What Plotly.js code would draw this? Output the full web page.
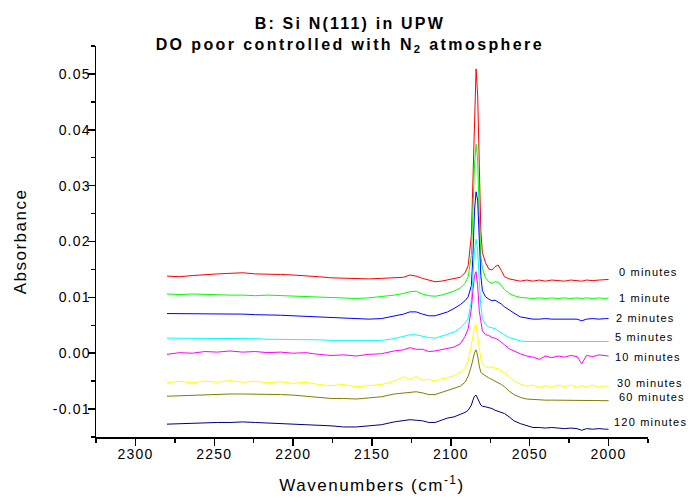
<!DOCTYPE html>
<html>
<head>
<meta charset="utf-8">
<script src="https://cdn.plot.ly/plotly-3.0.1.min.js"></script>
<style>html,body{margin:0;padding:0;background:#fff;}#chart{width:690px;height:502px;}</style>
</head>
<body>
<div id="chart"></div>
<script>
// Wavenumber grid (cm-1)
var wavenumbers = [2280,2272,2264,2256,2248,2240,2232,2224,2216,2208,2200,2192,2184,2176,2168,2160,2152,2144,2136,2130,2126,2122,2118,2114,2110,2106,2102,2098,2094,2091,2089,2087,2086,2085,2084,2083,2082,2081,2080,2078,2076,2074,2072,2070,2068,2066,2063,2060,2056,2052,2048,2044,2040,2036,2032,2028,2024,2020,2017,2014,2010,2006,2002,2000];

var seriesNames = ["0 minutes","1 minute","2 minutes","5 minutes","10 minutes","30 minutes","60 minutes","120 minutes"];

var abs0 = [0.0138,0.0137,0.0139,0.0141,0.0142,0.0143,0.0144,0.0142,0.0142,0.0141,0.0140,0.0139,0.0137,0.0135,0.0134,0.0133,0.0133,0.0134,0.0135,0.0136,0.0140,0.0138,0.0134,0.0131,0.0128,0.0129,0.0131,0.0134,0.0136,
  0.0144,0.0157,0.0211,0.0310,0.0435,0.0509,0.0462,0.0328,0.0220,0.0180,0.0162,0.0151,0.0149,0.0155,0.0158,0.0148,0.0137,0.0133,0.0131,
  0.0129,0.0131,0.0129,0.0131,0.0129,0.0131,0.0130,0.0129,0.0131,0.0130,0.0129,0.0131,0.0130,0.0131,0.0131,0.0132];
var abs1 = [0.0106,0.0105,0.0106,0.0105,0.0105,0.0104,0.0104,0.0103,0.0104,0.0103,0.0103,0.0102,0.0101,0.0100,0.0099,0.0098,0.0099,0.0101,0.0104,0.0107,0.0110,0.0111,0.0106,0.0103,0.0102,0.0104,0.0107,0.0111,0.0117,
  0.0125,0.0137,0.0175,0.0256,0.0337,0.0374,0.0346,0.0247,0.0175,0.0152,0.0135,0.0128,0.0125,0.0128,0.0127,0.0121,0.0114,0.0107,0.0103,0.0100,0.0099,
  0.0098,0.0099,0.0098,0.0099,0.0098,0.0099,0.0098,0.0099,0.0098,0.0099,0.0098,0.0099,0.0098,0.0099];
var abs2 = [0.0071,0.0071,0.0071,0.0070,0.0071,0.0070,0.0070,0.0069,0.0069,0.0068,
  0.0067,0.0066,0.0065,0.0064,0.0063,0.0062,0.0061,0.0062,0.0066,0.0070,
  0.0074,0.0074,0.0070,0.0067,0.0067,0.0070,0.0074,0.0080,0.0087,0.0094,
  0.0101,0.0121,0.0175,0.0256,0.0289,0.0274,0.0202,0.0139,0.0112,0.0101,
  0.0097,0.0094,0.0095,0.0092,0.0088,0.0083,0.0077,0.0072,0.0065,0.0063,
  0.0061,0.0061,0.0062,0.0061,0.0061,0.0062,0.0061,0.0061,0.0058,0.0061,
  0.0062,0.0061,0.0062,0.0062];
var abs5 = [0.0027,0.0027,0.0026,0.0026,0.0026,0.0027,0.0026,0.0026,0.0025,0.0025,
  0.0025,0.0024,0.0024,0.0023,0.0023,0.0022,0.0022,0.0023,0.0026,0.0030,
  0.0033,0.0033,0.0030,0.0028,0.0027,0.0030,0.0034,0.0038,0.0045,0.0054,
  0.0062,0.0094,0.0139,0.0184,0.0204,0.0184,0.0130,0.0085,0.0062,0.0051,
  0.0047,0.0046,0.0044,0.0040,0.0036,0.0033,0.0028,0.0025,0.0022,0.0021,
  0.0021,0.0021,0.0020,0.0021,0.0021,0.0021,0.0020,0.0021,0.0021,0.0020,
  0.0021,0.0021,0.0021,0.0021];
var abs10 = [-0.0002,0.0001,0.0000,0.0003,0.0002,0.0004,0.0002,0.0003,0.0001,0.0002,
  0.0000,0.0001,-0.0002,-0.0004,-0.0003,-0.0005,-0.0002,-0.0001,0.0004,0.0006,
  0.0010,0.0007,0.0007,0.0003,0.0004,0.0006,0.0009,0.0011,0.0017,0.0030,
  0.0044,0.0080,0.0112,0.0139,0.0146,0.0121,0.0076,0.0058,0.0040,0.0033,
  0.0032,0.0028,0.0027,0.0024,0.0020,0.0015,0.0008,0.0004,-0.0001,-0.0005,
  -0.0007,-0.0011,-0.0005,-0.0008,-0.0005,-0.0007,-0.0004,-0.0006,-0.0019,-0.0004,
  -0.0006,-0.0003,-0.0005,-0.0005];
var abs30 = [-0.0053,-0.0050,-0.0053,-0.0050,-0.0052,-0.0049,-0.0052,-0.0050,-0.0053,-0.0051,
  -0.0054,-0.0052,-0.0056,-0.0058,-0.0056,-0.0060,-0.0058,-0.0056,-0.0050,-0.0042,
  -0.0047,-0.0042,-0.0048,-0.0047,-0.0050,-0.0046,-0.0044,-0.0040,-0.0034,-0.0026,
  -0.0014,0.0013,0.0031,0.0047,0.0051,0.0031,0.0004,-0.0010,-0.0019,-0.0024,
  -0.0026,-0.0024,-0.0027,-0.0028,-0.0032,-0.0035,-0.0042,-0.0049,-0.0055,-0.0059,
  -0.0057,-0.0061,-0.0058,-0.0061,-0.0057,-0.0060,-0.0057,-0.0061,-0.0058,-0.0060,
  -0.0057,-0.0061,-0.0058,-0.0060];
var abs60 = [-0.0077,-0.0076,-0.0075,-0.0074,-0.0074,-0.0073,-0.0073,-0.0073,-0.0074,-0.0074,
  -0.0075,-0.0077,-0.0079,-0.0081,-0.0081,-0.0082,-0.0080,-0.0078,-0.0073,-0.0071,
  -0.0069,-0.0069,-0.0071,-0.0074,-0.0074,-0.0070,-0.0066,-0.0063,-0.0059,-0.0052,
  -0.0041,-0.0023,-0.0010,0.0001,0.0006,-0.0005,-0.0023,-0.0034,-0.0037,-0.0041,
  -0.0044,-0.0047,-0.0050,-0.0052,-0.0056,-0.0060,-0.0068,-0.0074,-0.0079,-0.0082,
  -0.0083,-0.0084,-0.0084,-0.0084,-0.0084,-0.0084,-0.0085,-0.0084,-0.0084,-0.0085,
  -0.0084,-0.0084,-0.0085,-0.0085];
var abs120 = [-0.0127,-0.0126,-0.0126,-0.0125,-0.0124,-0.0124,-0.0123,-0.0124,-0.0125,-0.0125,
  -0.0126,-0.0127,-0.0129,-0.0130,-0.0132,-0.0132,-0.0130,-0.0128,-0.0123,-0.0121,
  -0.0119,-0.0120,-0.0121,-0.0124,-0.0124,-0.0120,-0.0116,-0.0114,-0.0110,-0.0106,
  -0.0102,-0.0093,-0.0084,-0.0077,-0.0075,-0.0080,-0.0087,-0.0093,-0.0095,-0.0096,
  -0.0097,-0.0099,-0.0102,-0.0104,-0.0105,-0.0108,-0.0114,-0.0121,-0.0126,-0.0130,
  -0.0133,-0.0133,-0.0134,-0.0133,-0.0134,-0.0135,-0.0134,-0.0135,-0.0138,-0.0135,
  -0.0136,-0.0135,-0.0136,-0.0136];

var xTickVals = [2300,2250,2200,2150,2100,2050,2000];
var xTickText = ["2300","2250","2200","2150","2100","2050","2000"];
var yTickVals = [-0.01,0.00,0.01,0.02,0.03,0.04,0.05];
var yTickText = ["-0.01","0.00","0.01","0.02","0.03","0.04","0.05"];

var allSeries = [abs0,abs1,abs2,abs5,abs10,abs30,abs60,abs120];
var colors = ["#FF0000","#00FF00","#0000FF","#00FFFF","#FF00FF","#FFFF00","#808000","#000080"];

function sp(t, px){ return '<span style="letter-spacing:' + px + 'px">' + t + '</span>'; }

var FONT = "Liberation Sans, Arial, sans-serif";

var traces = allSeries.map(function(ys, i){
  return {x: wavenumbers, y: ys, type: 'scatter', mode: 'lines', name: seriesNames[i],
          line: {color: colors[i], width: 1}, hoverinfo: 'skip'};
});

var labelY = [0.422,0.355,0.304,0.256,0.205,0.138,0.102,0.038];
var labelX = [0.944,0.944,0.938,0.937,0.937,0.940,0.944,0.935];
var annotations = seriesNames.map(function(n, i){
  return {xref:'paper', yref:'paper', x: labelX[i], y: labelY[i], xanchor:'left', yanchor:'middle',
          text: sp(n, 1.2), showarrow:false, font:{family:FONT, size:11, color:'#000'}};
});

var layout = {
  width: 690, height: 502,
  paper_bgcolor: '#fff', plot_bgcolor: '#fff',
  margin: {l: 96, r: 42, t: 46, b: 65},
  showlegend: false,
  font: {family: FONT, color: '#000'},
  title: {
    text: '<b>' + sp('B: Si N(111) in UPW', 2.2) + '<br>' + sp('DO poor controlled with N<sub>2</sub> atmosphere', 2.4) + '</b>',
    font: {family: FONT, size: 16, color: '#000'},
    xref: 'container', x: 0.507, xanchor: 'center',
    yref: 'container', y: 0.942, yanchor: 'middle'
  },
  xaxis: {
    range: [2325, 1975], autorange: false,
    tickmode: 'array', tickvals: xTickVals, ticktext: xTickText.map(function(t){return sp(t,1.2);}),
    ticks: 'outside', ticklen: 7, tickwidth: 1.5, tickcolor: '#000',
    tickfont: {family: FONT, size: 14, color: '#000'},
    ticklabelstandoff: -3,
    showline: true, linecolor: '#000', linewidth: 1.5, mirror: false,
    showgrid: false, zeroline: false,
    minor: {tickmode: 'linear', tick0: 2000, dtick: 25, ticks: 'outside', ticklen: 4, tickwidth: 1.5, tickcolor: '#000', showgrid: false},
    title: {text: sp('Wavenumbers (cm<sup>-1</sup>)', 1.5), font: {family: FONT, size: 17, color: '#000'}, standoff: 18}
  },
  yaxis: {
    range: [-0.015, 0.055], autorange: false,
    tickmode: 'array', tickvals: yTickVals, ticktext: yTickText.map(function(t){return sp(t,1.2);}),
    ticks: 'outside', ticklen: 7, tickwidth: 1.5, tickcolor: '#000',
    tickfont: {family: FONT, size: 14, color: '#000'},
    ticklabelstandoff: -6,
    showline: true, linecolor: '#000', linewidth: 1.5, mirror: false,
    showgrid: false, zeroline: false,
    minor: {tickmode: 'linear', tick0: 0, dtick: 0.005, ticks: 'outside', ticklen: 4, tickwidth: 1.5, tickcolor: '#000', showgrid: false},
    title: {text: sp('Absorbance', 1.5), font: {family: FONT, size: 17, color: '#000'}, standoff: 22}
  },
  annotations: annotations
};

Plotly.newPlot('chart', traces, layout, {staticPlot: true, displayModeBar: false});
</script>
</body>
</html>
